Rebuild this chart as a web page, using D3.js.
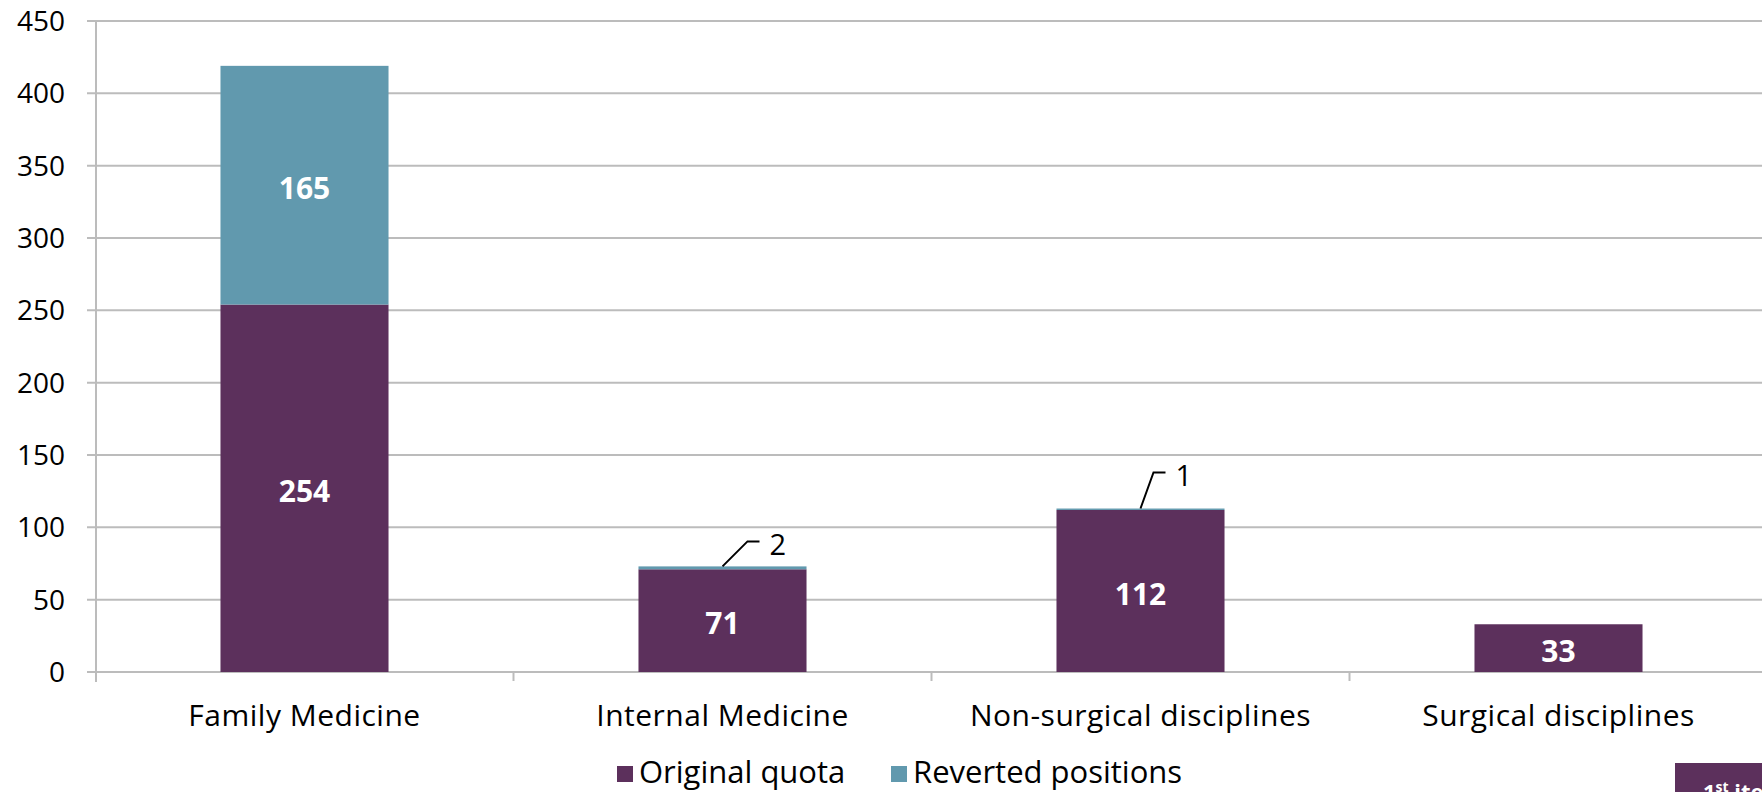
<!DOCTYPE html>
<html>
<head>
<meta charset="utf-8">
<script src="https://cdn.jsdelivr.net/npm/d3@7"></script>
<style>
  body { margin: 0; background: #fff; overflow: hidden; }
  text { font-family: "Open Sans", "Noto Sans", sans-serif; }
</style>
</head>
<body>
<div id="chart"></div>
<script>
// data
var categories = ["Family Medicine", "Internal Medicine", "Non-surgical disciplines", "Surgical disciplines"];
var originalQuota = [254, 71, 112, 33];
var revertedPositions = [165, 2, 1, 0];
var yTicks = [0, 50, 100, 150, 200, 250, 300, 350, 400, 450];
var seriesNames = ["Original quota", "Reverted positions"];
var colors = ["#5c305c", "#6199ae"];

var W = 1762, H = 792;
var svg = d3.select("#chart").append("svg").attr("width", W).attr("height", H);

var x = d3.scaleBand().domain(categories).range([95.5, 1767.5]).padding(0);
var y = d3.scaleLinear().domain([0, 450]).range([672, 21]);
var barW = x.bandwidth() * 0.402;

var rows = categories.map(function(c, i) { return { cat: c, orig: originalQuota[i], rev: revertedPositions[i] }; });
var stacked = d3.stack().keys(["orig", "rev"])(rows);

// gridlines
svg.append("g").selectAll("line.grid").data(yTicks).enter().append("line")
  .attr("class", "grid")
  .attr("x1", 87).attr("x2", W)
  .attr("y1", function(d) { return y(d); }).attr("y2", function(d) { return y(d); })
  .style("stroke", "#bcbcbc").style("stroke-width", 2);

// y axis line
svg.append("line").attr("x1", 96).attr("x2", 96).attr("y1", y(450)).attr("y2", y(0) + 10)
  .style("stroke", "#bcbcbc").style("stroke-width", 2);

// category ticks
svg.append("g").selectAll("line.xtick").data(categories.slice(1)).enter().append("line")
  .attr("class", "xtick")
  .attr("x1", function(d) { return x(d); }).attr("x2", function(d) { return x(d); })
  .attr("y1", y(0)).attr("y2", y(0) + 9)
  .style("stroke", "#bcbcbc").style("stroke-width", 2);

// y tick labels
svg.append("g").selectAll("text.ytick").data(yTicks).enter().append("text")
  .attr("class", "ytick")
  .attr("x", 65).attr("y", function(d) { return y(d); })
  .attr("dy", "0.36em")
  .attr("text-anchor", "end")
  .style("font-size", "28px").style("fill", "#000")
  .text(function(d) { return d; });

// bars
var layers = svg.append("g").selectAll("g.layer").data(stacked).enter().append("g")
  .attr("class", "layer").style("fill", function(d, i) { return colors[i]; });

layers.selectAll("rect").data(function(d) { return d; }).enter().append("rect")
  .attr("x", function(d) { return x(d.data.cat) + (x.bandwidth() - barW) / 2; })
  .attr("width", barW)
  .attr("y", function(d) { return y(d[1]); })
  .attr("height", function(d) { return y(d[0]) - y(d[1]); });

// labels inside bars (big values)
layers.selectAll("text.inlabel").data(function(d) { return d.filter(function(p) { return p[1] - p[0] >= 10; }); })
  .enter().append("text")
  .attr("class", "inlabel")
  .attr("x", function(d) { return x(d.data.cat) + x.bandwidth() / 2; })
  .attr("y", function(d) { return (y(d[0]) + y(d[1])) / 2 + 3; })
  .attr("dy", "0.36em")
  .attr("text-anchor", "middle")
  .style("font-size", "30px").style("font-weight", "bold").style("fill", "#fff")
  .text(function(d) { return d[1] - d[0]; });

// callouts for tiny reverted values
var callOff = { "Internal Medicine": [25, -25, 12], "Non-surgical disciplines": [13, -36, 12] };
var small = stacked[1].filter(function(p) { return p[1] - p[0] > 0 && p[1] - p[0] < 10; });
var co = svg.append("g").selectAll("g.callout").data(small).enter().append("g").attr("class", "callout");
co.append("path")
  .attr("d", function(d) {
    var o = callOff[d.data.cat];
    var cx = x(d.data.cat) + x.bandwidth() / 2, cy = y(d[1]);
    return "M" + cx + "," + cy + "L" + (cx + o[0]) + "," + (cy + o[1]) + "h" + o[2];
  })
  .style("fill", "none").style("stroke", "#000").style("stroke-width", 2);
co.append("text")
  .attr("x", function(d) { var o = callOff[d.data.cat]; return x(d.data.cat) + x.bandwidth() / 2 + o[0] + o[2] + 10; })
  .attr("y", function(d) { return y(d[1]) + callOff[d.data.cat][1] + 3; })
  .attr("dy", "0.36em")
  .style("font-size", "29px").style("fill", "#000")
  .text(function(d) { return d[1] - d[0]; });

// category labels
svg.append("g").selectAll("text.cat").data(categories).enter().append("text")
  .attr("class", "cat")
  .attr("x", function(d) { return x(d) + x.bandwidth() / 2; })
  .attr("y", 726)
  .attr("text-anchor", "middle")
  .style("font-size", "30px").style("letter-spacing", "0.5px").style("fill", "#000")
  .text(function(d) { return d; });

// legend
var legX = [617, 891];
var leg = svg.append("g").selectAll("g.leg").data(seriesNames).enter().append("g")
  .attr("class", "leg").attr("transform", function(d, i) { return "translate(" + legX[i] + ",0)"; });
leg.append("rect").attr("x", 0).attr("y", 766).attr("width", 16).attr("height", 16)
  .style("fill", function(d, i) { return colors[i]; });
leg.append("text").attr("x", 22).attr("y", 783)
  .style("font-size", "31px").style("fill", "#000")
  .text(function(d) { return d; });

// cropped badge bottom right
svg.append("rect").attr("x", 1675).attr("y", 763).attr("width", 100).attr("height", 40).style("fill", colors[0]);
var badge = svg.append("text").attr("x", 1703).attr("y", 800)
  .style("font-size", "22px").style("font-weight", "bold").style("fill", "#fff");
badge.append("tspan").text("1");
badge.append("tspan").attr("dy", -8).style("font-size", "14px").text("st");
badge.append("tspan").attr("dy", 8).text(" iteration");
</script>
</body>
</html>
